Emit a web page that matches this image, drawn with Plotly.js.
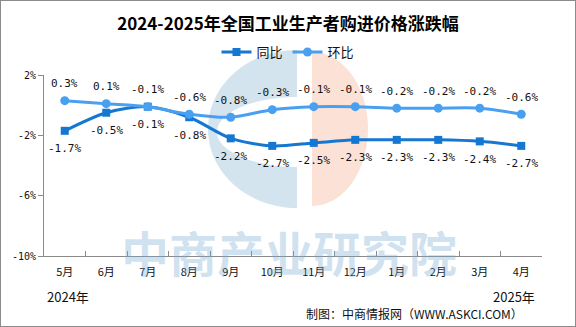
<!DOCTYPE html>
<html>
<head>
<meta charset="utf-8">
<script src="https://cdn.plot.ly/plotly-3.0.1.min.js"></script>
<style>
html,body{margin:0;padding:0;background:#fff;}
#wrap{position:relative;width:576px;height:327px;}
#chart{width:576px;height:327px;}
#frame{position:absolute;left:0;top:0;width:576px;height:327px;box-sizing:border-box;border:1px solid #8c8c8c;pointer-events:none;}
</style>
</head>
<body>
<div id="wrap"><div id="chart"></div><div id="frame"></div></div>
<script>
const categories = ['5月','6月','7月','8月','9月','10月','11月','12月','1月','2月','3月','4月'];
const yoy = [-1.7, -0.5, -0.1, -0.8, -2.2, -2.7, -2.5, -2.3, -2.3, -2.3, -2.4, -2.7];
const mom = [0.3, 0.1, -0.1, -0.6, -0.8, -0.3, -0.1, -0.1, -0.2, -0.2, -0.2, -0.6];
const yTickVals = [2, -2, -6, -10];
const yTickText = ['2%', '-2%', '-6%', '-10%'];

const W = 576, H = 327;
const PL = 44, PR = 542, PT = 75, PB = 256;
const px = x => (x - PL) / (PR - PL);
const py = y => (PB - y) / (PB - PT);
const P = (x, y) => px(x).toFixed(4) + ',' + py(y).toFixed(4);

function halfEllipse(cx, cy, rx, ry, dir) {
  const k = 0.5523;
  const sx = cx + dir * rx;
  return 'M' + P(cx, cy - ry) +
    ' C' + P(cx + dir * k * rx, cy - ry) + ' ' + P(sx, cy - k * ry) + ' ' + P(sx, cy) +
    ' C' + P(sx, cy + k * ry) + ' ' + P(cx + dir * k * rx, cy + ry) + ' ' + P(cx, cy + ry) + ' Z';
}

const shapes = [
  {type:'path', xref:'paper', yref:'paper', layer:'below', path: halfEllipse(297, 129, 89, 79, -1), fillcolor:'#d3e4ee', line:{width:0}},
  {type:'path', xref:'paper', yref:'paper', layer:'below', path: halfEllipse(298, 132, 81, 35, -1), fillcolor:'#ffffff', line:{width:0}},
  {type:'path', xref:'paper', yref:'paper', layer:'below', path: halfEllipse(312, 129, 56, 77, 1), fillcolor:'#fbe1d6', line:{width:0}}
];

const fmt = v => v.toFixed(1) + '%';
const labelFont = {family:'DejaVu Sans Mono, monospace', size:11, color:'#111'};
const annotations = [];
categories.forEach((c, i) => {
  annotations.push({x:c, y:mom[i], text:fmt(mom[i]), showarrow:false, yshift:17, font:labelFont});
  annotations.push({x:c, y:yoy[i], text:fmt(yoy[i]), showarrow:false, yshift:-18, font:labelFont});
});
annotations.push({xref:'paper', yref:'paper', x:px(289), y:py(251), xanchor:'center', yanchor:'middle', text:'中商产业研究院', showarrow:false,
  font:{family:'Noto Sans CJK SC', size:48, color:'rgba(120,170,210,0.34)', weight:700}});
annotations.push({xref:'paper', yref:'paper', x:px(45), y:py(296), xanchor:'left', yanchor:'middle', text:'2024年', showarrow:false,
  font:{family:'Noto Sans CJK SC', size:13, color:'#111'}});
annotations.push({xref:'paper', yref:'paper', x:px(537), y:py(296), xanchor:'right', yanchor:'middle', text:'2025年', showarrow:false,
  font:{family:'Noto Sans CJK SC', size:13, color:'#111'}});
annotations.push({xref:'paper', yref:'paper', x:px(525), y:py(313), xanchor:'right', yanchor:'middle', text:'制图：中商情报网（WWW.ASKCI.COM）', showarrow:false,
  font:{family:'Noto Sans CJK SC', size:12, color:'#111'}});

const traces = [
  {type:'scatter', mode:'lines+markers', name:'同比', x:categories, y:yoy,
   line:{color:'#1677d2', width:3, shape:'spline', smoothing:0.8},
   marker:{symbol:'square', size:8, color:'#1677d2'}},
  {type:'scatter', mode:'lines+markers', name:'环比', x:categories, y:mom,
   line:{color:'#4aa0f0', width:3, shape:'spline', smoothing:0.8},
   marker:{symbol:'circle', size:9, color:'#4aa0f0'}}
];

const layout = {
  width:W, height:H,
  margin:{l:PL, r:W-PR, t:PT, b:H-PB, pad:0},
  paper_bgcolor:'#fff', plot_bgcolor:'rgba(0,0,0,0)',
  title:{text:'2024-2025年全国工业生产者购进价格涨跌幅', x:px(288), xref:'paper', xanchor:'center', y:1-24/H, yanchor:'middle',
    font:{family:'Noto Sans CJK SC', size:17, color:'#000', weight:700}},
  showlegend:true,
  legend:{orientation:'h', x:px(288), xanchor:'center', y:py(52), yanchor:'middle',
    font:{family:'Noto Sans CJK SC', size:13, color:'#111'}, bgcolor:'rgba(0,0,0,0)', itemwidth:30, tracegroupgap:0},
  xaxis:{type:'category', range:[-0.5, 11.5], showline:true, linecolor:'#8a8a8a', linewidth:1,
    ticks:'inside', tickson:'boundaries', ticklen:5, tickcolor:'#8a8a8a', showgrid:false, zeroline:false,
    ticklabelstandoff:6,
    tickfont:{family:'Noto Sans CJK SC', size:11, color:'#111'}, fixedrange:true},
  yaxis:{range:[-10, 2], tickvals:yTickVals, ticktext:yTickText, showline:true, linecolor:'#8a8a8a', linewidth:1,
    ticks:'outside', ticklen:5, tickcolor:'#8a8a8a', showgrid:false, zeroline:false,
    tickfont:{family:'DejaVu Sans Mono, monospace', size:10, color:'#111'}, fixedrange:true},
  shapes:shapes,
  annotations:annotations
};

Plotly.newPlot('chart', traces, layout, {displayModeBar:false, staticPlot:true});
</script>
</body>
</html>
